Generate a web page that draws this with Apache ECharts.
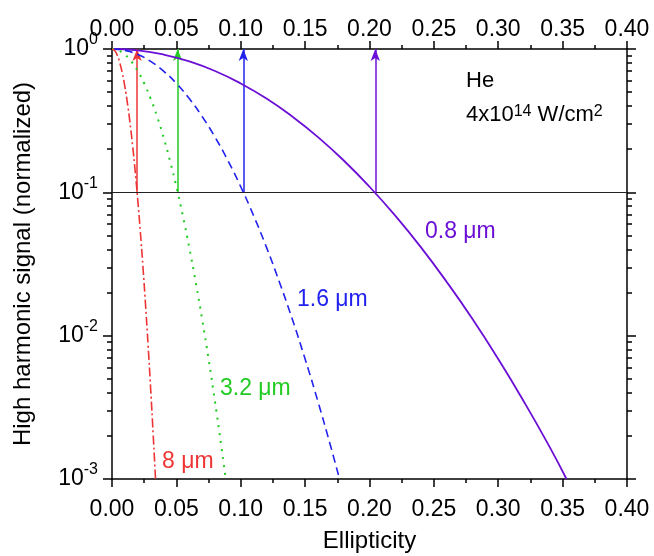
<!DOCTYPE html>
<html>
<head>
<meta charset="utf-8">
<script src="https://cdn.jsdelivr.net/npm/echarts@6/dist/echarts.min.js"></script>
<style>html,body{margin:0;padding:0;background:#fff}#c{width:654px;height:556px}</style>
</head>
<body>
<div id="c"></div>
<script>
// Ellipticity values (x) and normalized signal (y)
const x08 = [0, 0.02, 0.04, 0.06, 0.08, 0.10, 0.12, 0.14, 0.16, 0.18, 0.20, 0.22, 0.24, 0.26, 0.28, 0.30, 0.32, 0.34, 0.353];
const y08 = [1, 0.978, 0.915, 0.819, 0.702, 0.575, 0.451, 0.338, 0.243, 0.1667, 0.1094, 0.0687, 0.0413, 0.0237, 0.01306, 0.00687, 0.00346, 0.00167, 0.001];
const x16 = [0, 0.01, 0.02, 0.03, 0.04, 0.05, 0.06, 0.07, 0.08, 0.09, 0.10, 0.11, 0.12, 0.13, 0.14, 0.15, 0.16, 0.17, 0.1767];
const y16 = [1, 0.978, 0.915, 0.819, 0.702, 0.575, 0.451, 0.338, 0.243, 0.1667, 0.1094, 0.0687, 0.0413, 0.0237, 0.01306, 0.00687, 0.00346, 0.00167, 0.001];
const x32 = [0, 0.005, 0.01, 0.015, 0.02, 0.025, 0.03, 0.035, 0.04, 0.045, 0.05, 0.055, 0.06, 0.065, 0.07, 0.075, 0.08, 0.085, 0.0883];
const y32 = [1, 0.978, 0.915, 0.819, 0.702, 0.575, 0.451, 0.338, 0.243, 0.1667, 0.1094, 0.0687, 0.0413, 0.0237, 0.01306, 0.00687, 0.00346, 0.00167, 0.001];
const x8 = [0, 0.002, 0.004, 0.006, 0.008, 0.010, 0.012, 0.014, 0.016, 0.018, 0.020, 0.022, 0.024, 0.026, 0.028, 0.030, 0.032, 0.0338];
const y8 = [1, 0.976, 0.908, 0.804, 0.679, 0.546, 0.418, 0.305, 0.212, 0.1406, 0.0887, 0.0533, 0.0306, 0.0167, 0.00867, 0.0043, 0.00203, 0.001];
// Arrow positions (ellipticity at which signal drops to 0.1)
const arrowX = [0.0195, 0.051, 0.102, 0.2045];
const thresholdY = 0.1;
const xTicks = ['0.00','0.05','0.10','0.15','0.20','0.25','0.30','0.35','0.40'];
const yMinorTicks = [0.002,0.003,0.004,0.005,0.006,0.007,0.008,0.009,0.02,0.03,0.04,0.05,0.06,0.07,0.08,0.09,0.2,0.3,0.4,0.5,0.6,0.7,0.8,0.9];

const C_PUR = '#6C0FD6', C_BLU = '#2222EE', C_GRN = '#22CC22', C_RED = '#EE3535';
const FONT = 'Liberation Sans, Arial, sans-serif';

function pairs(xs, ys) { return xs.map((v, i) => [v, ys[i]]); }
function arrow(x, color) {
  return {
    silent: true,
    lineStyle: { color: color, width: 1.5, type: 'solid' }, label: { show: false },
    data: [[{ coord: [x, thresholdY], symbol: 'none' },
            { coord: [x, 1], symbol: 'arrow', symbolSize: [7, 12] }]]
  };
}
const chart = echarts.init(document.getElementById('c'));
const axisCommon = {
  min: 0, max: 0.4, interval: 0.05, type: 'value',
  axisLine: { show: true, onZero: false, lineStyle: { color: '#000', width: 1.5 } },
  axisTick: { show: true, inside: false, length: 8, lineStyle: { color: '#000', width: 1.5 } },
  minorTick: { show: true, splitNumber: 2, length: 4, lineStyle: { color: '#000', width: 1.5 } },
  splitLine: { show: false }
};
const xLabel = (margin) => ({ color: '#000', fontSize: 23, fontFamily: FONT, margin: margin,
  formatter: v => xTicks[Math.round(v / 0.05)] });
const yMain = {
  type: 'log', logBase: 10, min: 0.001, max: 1,
  axisLine: { show: true, onZero: false, lineStyle: { color: '#000', width: 1.5 } },
  axisTick: { show: true, inside: false, length: 9, lineStyle: { color: '#000', width: 1.5 } },
  splitLine: { show: false }
};
function supLabel(v) {
  const e = Math.round(Math.log10(v));
  return '{b|10}{s|' + e + '}';
}
// minor ticks drawn on helper axes in log10 space
const yMinor = {
  type: 'value', min: -3, max: 0,
  axisLine: { show: false, onZero: false },
  axisTick: { show: true, inside: false, length: 5, customValues: yMinorTicks.map(v => Math.log10(v)),
    lineStyle: { color: '#000', width: 1.5 } },
  axisLabel: { show: false }, splitLine: { show: false }
};
chart.setOption({
  animation: false,
  backgroundColor: '#fff',
  grid: { left: 112, right: 27, top: 49, bottom: 77, outerBoundsMode: 'none', containLabel: false },
  xAxis: [
    Object.assign({}, axisCommon, { position: 'bottom', axisLabel: xLabel(19),
      name: 'Ellipticity', nameLocation: 'middle', nameGap: 50,
      nameTextStyle: { color: '#000', fontSize: 24, fontFamily: FONT } }),
    Object.assign({}, axisCommon, { position: 'top', axisLabel: xLabel(8) })
  ],
  yAxis: [
    Object.assign({}, yMain, { position: 'left', name: 'High harmonic signal (normalized)', nameLocation: 'middle', nameGap: 77,
      nameTextStyle: { color: '#000', fontSize: 24, fontFamily: FONT },
      axisLabel: { color: '#000', fontFamily: FONT, margin: 14, formatter: supLabel,
        rich: { b: { fontSize: 23, fontFamily: FONT, lineHeight: 34 }, s: { fontSize: 16, fontFamily: FONT, verticalAlign: 'top', lineHeight: 18 } } } }),
    Object.assign({}, yMain, { position: 'right', axisLabel: { show: false } }),
    Object.assign({}, yMinor, { position: 'left' }),
    Object.assign({}, yMinor, { position: 'right' })
  ],
  series: [
    { type: 'line', name: '0.8 μm', data: pairs(x08, y08), smooth: true, showSymbol: false, symbol: 'none',
      lineStyle: { color: C_PUR, width: 1.8 }, z: 5,
      markLine: arrow(arrowX[3], C_PUR) },
    { type: 'line', name: '1.6 μm', data: pairs(x16, y16), smooth: true, showSymbol: false, symbol: 'none',
      lineStyle: { color: C_BLU, width: 1.6, type: [8, 5] }, z: 5,
      markLine: arrow(arrowX[2], C_BLU) },
    { type: 'line', name: '3.2 μm', data: pairs(x32, y32), smooth: true, showSymbol: false, symbol: 'none',
      lineStyle: { color: C_GRN, width: 2, type: [2, 6] }, z: 5,
      markLine: arrow(arrowX[1], C_GRN) },
    { type: 'line', name: '8 μm', data: pairs(x8, y8), smooth: true, showSymbol: false, symbol: 'none',
      lineStyle: { color: C_RED, width: 1.6, type: [9, 3, 2, 3] }, z: 5,
      markLine: arrow(arrowX[0], C_RED) },
    { type: 'line', data: [], markLine: { silent: true, symbol: 'none', label: { show: false },
      lineStyle: { color: '#222', width: 1, type: 'solid' }, data: [{ yAxis: thresholdY }] } }
  ],
  graphic: [
    { type: 'text', left: 466, top: 70, style: { text: 'He', fill: '#000', font: '22px ' + FONT } },
    { type: 'text', left: 466, top: 104, style: { text: '4x10{s|14} W/cm{s|2}', fill: '#000',
      font: '22px ' + FONT, rich: { s: { fontSize: 16, fontFamily: FONT, verticalAlign: 'top', lineHeight: 16 } } } },
    { type: 'text', left: 425, top: 220, style: { text: '0.8 μm', fill: C_PUR, font: '23px ' + FONT } },
    { type: 'text', left: 297, top: 288, style: { text: '1.6 μm', fill: C_BLU, font: '23px ' + FONT } },
    { type: 'text', left: 220, top: 377, style: { text: '3.2 μm', fill: C_GRN, font: '23px ' + FONT } },
    { type: 'text', left: 162, top: 450, style: { text: '8 μm', fill: C_RED, font: '23px ' + FONT } }
  ]
});
</script>
</body>
</html>
